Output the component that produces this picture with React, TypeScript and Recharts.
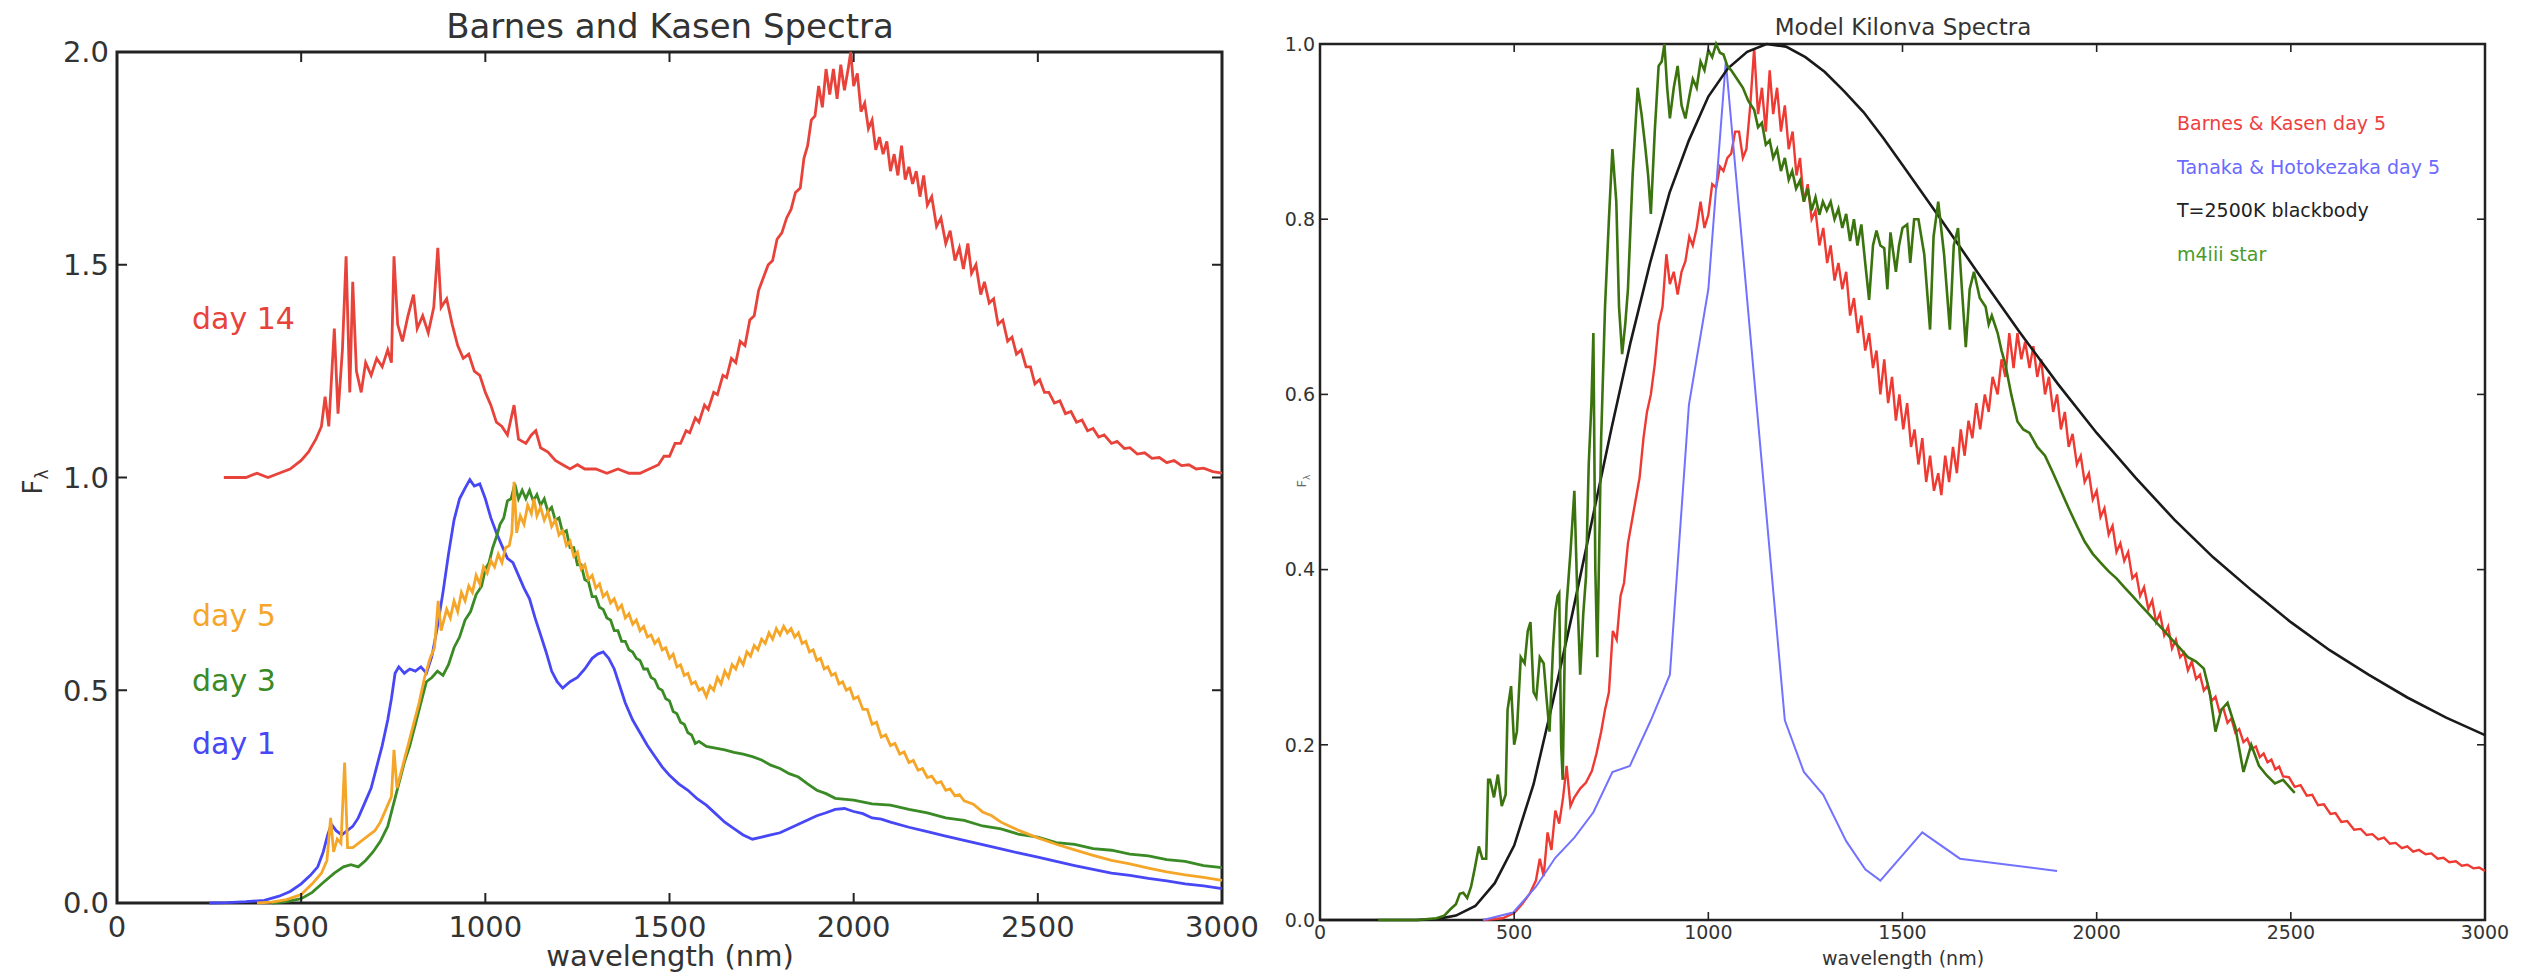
import React from 'react';
import { LineChart, Line, XAxis, YAxis, ReferenceArea } from 'recharts';

type Pt = [number, number];

// ---- left panel: Barnes & Kasen spectra (wavelength nm, F_lambda)
const bkDay14: Pt[] = [
  [290, 1.0], [320, 1.0], [350, 1.0], [380, 1.01], [410, 1.0], [440, 1.01], [470, 1.02], [500, 1.04], [520, 1.06], [540, 1.09],
  [555, 1.12], [565, 1.19], [575, 1.12], [590, 1.35], [600, 1.15], [612, 1.3], [622, 1.52], [632, 1.2], [640, 1.46], [650, 1.25],
  [663, 1.2], [675, 1.27], [690, 1.24], [705, 1.28], [720, 1.26], [735, 1.3], [745, 1.27], [752, 1.52], [762, 1.36], [775, 1.32],
  [790, 1.38], [805, 1.43], [815, 1.35], [830, 1.38], [845, 1.34], [860, 1.4], [871, 1.54], [880, 1.4], [895, 1.42], [910, 1.36],
  [925, 1.31], [940, 1.28], [955, 1.29], [970, 1.25], [985, 1.24], [1000, 1.2], [1015, 1.17], [1030, 1.13], [1045, 1.12], [1060, 1.1],
  [1078, 1.17], [1090, 1.09], [1110, 1.08], [1125, 1.1], [1137, 1.11], [1150, 1.07], [1170, 1.06], [1190, 1.04], [1210, 1.03], [1230, 1.02],
  [1250, 1.03], [1270, 1.02], [1300, 1.02], [1330, 1.01], [1360, 1.02], [1390, 1.01], [1420, 1.01], [1445, 1.02], [1470, 1.03], [1485, 1.05],
  [1500, 1.05], [1515, 1.08], [1530, 1.08], [1545, 1.11], [1555, 1.105], [1570, 1.14], [1580, 1.13], [1595, 1.17], [1605, 1.16], [1620, 1.2],
  [1630, 1.195], [1645, 1.24], [1655, 1.235], [1668, 1.28], [1680, 1.27], [1692, 1.32], [1705, 1.31], [1718, 1.37], [1730, 1.38], [1742, 1.44],
  [1755, 1.47], [1768, 1.5], [1780, 1.51], [1792, 1.56], [1805, 1.575], [1818, 1.61], [1830, 1.63], [1842, 1.67], [1855, 1.68], [1865, 1.75],
  [1875, 1.78], [1885, 1.84], [1895, 1.85], [1905, 1.92], [1915, 1.87], [1925, 1.96], [1935, 1.9], [1945, 1.96], [1955, 1.89], [1965, 1.97],
  [1975, 1.91], [1985, 1.96], [1992, 2.0], [2000, 1.92], [2010, 1.95], [2020, 1.86], [2030, 1.88], [2040, 1.82], [2050, 1.84], [2060, 1.77],
  [2070, 1.8], [2080, 1.76], [2090, 1.79], [2100, 1.72], [2110, 1.76], [2120, 1.71], [2130, 1.78], [2140, 1.7], [2150, 1.73], [2160, 1.69],
  [2170, 1.72], [2180, 1.66], [2190, 1.71], [2200, 1.64], [2212, 1.66], [2225, 1.59], [2237, 1.61], [2250, 1.55], [2262, 1.58], [2275, 1.51],
  [2287, 1.54], [2298, 1.49], [2310, 1.55], [2320, 1.48], [2332, 1.5], [2345, 1.43], [2355, 1.46], [2368, 1.41], [2380, 1.42], [2392, 1.36],
  [2405, 1.37], [2418, 1.32], [2430, 1.33], [2442, 1.29], [2455, 1.3], [2468, 1.26], [2480, 1.26], [2492, 1.22], [2505, 1.23], [2518, 1.2],
  [2530, 1.2], [2545, 1.175], [2560, 1.18], [2575, 1.15], [2590, 1.155], [2605, 1.13], [2620, 1.135], [2635, 1.11], [2650, 1.115], [2665, 1.095],
  [2680, 1.1], [2700, 1.08], [2715, 1.085], [2735, 1.068], [2750, 1.07], [2770, 1.055], [2790, 1.058], [2810, 1.045], [2830, 1.047], [2850, 1.035],
  [2870, 1.04], [2890, 1.028], [2910, 1.03], [2930, 1.02], [2950, 1.022], [2975, 1.014], [3000, 1.01],
];

const bkDay5: Pt[] = [
  [380, 0], [420, 0.002], [460, 0.008], [500, 0.02], [530, 0.045], [555, 0.07], [570, 0.1], [580, 0.2], [588, 0.12], [598, 0.15],
  [608, 0.14], [618, 0.33], [626, 0.13], [640, 0.13], [655, 0.14], [670, 0.15], [685, 0.16], [700, 0.17], [715, 0.19], [730, 0.22],
  [745, 0.25], [752, 0.36], [760, 0.27], [775, 0.32], [790, 0.37], [805, 0.42], [820, 0.47], [835, 0.53], [850, 0.575], [862, 0.6],
  [872, 0.71], [880, 0.64], [895, 0.69], [905, 0.67], [915, 0.71], [925, 0.685], [935, 0.73], [945, 0.71], [955, 0.745], [965, 0.73],
  [975, 0.77], [985, 0.75], [995, 0.79], [1005, 0.775], [1015, 0.805], [1025, 0.79], [1035, 0.82], [1045, 0.8], [1055, 0.835], [1065, 0.84],
  [1072, 0.87], [1078, 0.99], [1085, 0.87], [1095, 0.91], [1105, 0.89], [1115, 0.935], [1125, 0.915], [1132, 0.95], [1140, 0.91], [1150, 0.93],
  [1160, 0.9], [1170, 0.92], [1180, 0.885], [1190, 0.9], [1200, 0.865], [1210, 0.875], [1220, 0.84], [1230, 0.85], [1240, 0.815], [1250, 0.825],
  [1260, 0.785], [1270, 0.795], [1280, 0.76], [1290, 0.77], [1300, 0.74], [1310, 0.75], [1320, 0.72], [1330, 0.73], [1340, 0.705], [1350, 0.715],
  [1360, 0.69], [1370, 0.7], [1380, 0.67], [1390, 0.68], [1400, 0.655], [1410, 0.665], [1420, 0.64], [1430, 0.65], [1440, 0.625], [1450, 0.63],
  [1460, 0.61], [1470, 0.62], [1480, 0.595], [1490, 0.6], [1500, 0.575], [1510, 0.585], [1520, 0.555], [1530, 0.56], [1540, 0.535], [1550, 0.54],
  [1560, 0.515], [1570, 0.52], [1580, 0.5], [1590, 0.505], [1600, 0.485], [1610, 0.51], [1620, 0.5], [1630, 0.53], [1640, 0.515], [1650, 0.545],
  [1660, 0.53], [1670, 0.56], [1680, 0.55], [1690, 0.575], [1700, 0.56], [1710, 0.59], [1720, 0.58], [1730, 0.605], [1740, 0.595], [1750, 0.62],
  [1760, 0.61], [1770, 0.635], [1780, 0.62], [1790, 0.645], [1800, 0.63], [1810, 0.65], [1820, 0.635], [1830, 0.645], [1840, 0.625], [1850, 0.635],
  [1860, 0.61], [1870, 0.615], [1880, 0.59], [1890, 0.595], [1900, 0.57], [1910, 0.575], [1920, 0.55], [1930, 0.555], [1940, 0.535], [1950, 0.54],
  [1960, 0.515], [1970, 0.52], [1980, 0.5], [1990, 0.505], [2000, 0.48], [2012, 0.485], [2025, 0.455], [2037, 0.455], [2050, 0.42], [2062, 0.425],
  [2075, 0.39], [2087, 0.395], [2100, 0.37], [2112, 0.375], [2125, 0.35], [2137, 0.355], [2150, 0.33], [2162, 0.335], [2175, 0.312], [2187, 0.316],
  [2200, 0.295], [2212, 0.298], [2225, 0.282], [2237, 0.285], [2250, 0.265], [2262, 0.268], [2275, 0.252], [2287, 0.255], [2300, 0.24], [2325, 0.232],
  [2350, 0.214], [2375, 0.205], [2400, 0.19], [2425, 0.18], [2450, 0.17], [2500, 0.153], [2550, 0.138], [2600, 0.125], [2650, 0.112], [2700, 0.1],
  [2750, 0.092], [2800, 0.082], [2850, 0.073], [2900, 0.066], [2950, 0.06], [3000, 0.053],
];

const bkDay3: Pt[] = [
  [420, 0], [460, 0.003], [500, 0.01], [530, 0.025], [560, 0.048], [590, 0.07], [615, 0.085], [635, 0.09], [655, 0.085], [675, 0.1],
  [695, 0.12], [715, 0.145], [735, 0.18], [750, 0.23], [765, 0.28], [780, 0.33], [795, 0.37], [810, 0.42], [825, 0.47], [840, 0.52],
  [855, 0.53], [870, 0.545], [885, 0.535], [900, 0.56], [915, 0.6], [930, 0.625], [945, 0.665], [960, 0.685], [975, 0.725], [990, 0.745],
  [1000, 0.785], [1010, 0.8], [1020, 0.835], [1030, 0.86], [1040, 0.89], [1050, 0.905], [1060, 0.945], [1070, 0.95], [1080, 0.985], [1090, 0.95],
  [1100, 0.97], [1110, 0.95], [1120, 0.97], [1130, 0.945], [1140, 0.96], [1150, 0.935], [1160, 0.95], [1170, 0.92], [1180, 0.93], [1190, 0.9],
  [1200, 0.905], [1210, 0.87], [1220, 0.875], [1230, 0.835], [1240, 0.835], [1250, 0.795], [1260, 0.795], [1270, 0.76], [1280, 0.755], [1290, 0.72],
  [1300, 0.72], [1310, 0.695], [1320, 0.69], [1330, 0.67], [1340, 0.665], [1350, 0.64], [1360, 0.64], [1370, 0.615], [1380, 0.615], [1390, 0.595],
  [1400, 0.59], [1410, 0.575], [1420, 0.57], [1430, 0.55], [1440, 0.55], [1450, 0.53], [1460, 0.525], [1470, 0.505], [1480, 0.5], [1490, 0.48],
  [1500, 0.475], [1510, 0.45], [1520, 0.445], [1530, 0.425], [1540, 0.42], [1550, 0.4], [1560, 0.395], [1570, 0.375], [1580, 0.38], [1600, 0.368],
  [1625, 0.364], [1650, 0.36], [1675, 0.354], [1700, 0.35], [1725, 0.344], [1750, 0.336], [1775, 0.324], [1800, 0.316], [1825, 0.304], [1850, 0.296],
  [1875, 0.28], [1900, 0.265], [1925, 0.257], [1950, 0.246], [2000, 0.242], [2050, 0.233], [2100, 0.23], [2150, 0.22], [2200, 0.212], [2250, 0.2],
  [2300, 0.194], [2350, 0.181], [2400, 0.174], [2450, 0.161], [2500, 0.155], [2550, 0.142], [2600, 0.138], [2650, 0.128], [2700, 0.124], [2750, 0.115],
  [2800, 0.111], [2850, 0.102], [2900, 0.098], [2950, 0.088], [3000, 0.083],
];

const bkDay1: Pt[] = [
  [250, 0], [300, 0.001], [350, 0.003], [400, 0.006], [440, 0.016], [470, 0.027], [500, 0.045], [525, 0.065], [545, 0.085], [560, 0.12],
  [572, 0.16], [582, 0.185], [595, 0.17], [610, 0.16], [625, 0.17], [640, 0.18], [655, 0.2], [670, 0.23], [690, 0.27], [705, 0.32],
  [720, 0.37], [735, 0.43], [745, 0.48], [755, 0.54], [765, 0.555], [780, 0.54], [795, 0.55], [810, 0.545], [825, 0.555], [840, 0.54],
  [855, 0.58], [870, 0.65], [885, 0.73], [900, 0.82], [915, 0.9], [930, 0.95], [945, 0.975], [958, 0.995], [970, 0.98], [985, 0.985],
  [1000, 0.95], [1015, 0.905], [1030, 0.87], [1045, 0.84], [1060, 0.81], [1075, 0.8], [1090, 0.77], [1105, 0.74], [1120, 0.715], [1135, 0.67],
  [1150, 0.63], [1165, 0.59], [1180, 0.545], [1195, 0.52], [1210, 0.505], [1230, 0.52], [1250, 0.53], [1270, 0.55], [1290, 0.575], [1305, 0.585],
  [1320, 0.59], [1335, 0.575], [1350, 0.55], [1365, 0.51], [1380, 0.47], [1400, 0.43], [1420, 0.4], [1440, 0.37], [1460, 0.345], [1480, 0.32],
  [1500, 0.3], [1525, 0.28], [1550, 0.265], [1575, 0.245], [1600, 0.23], [1625, 0.21], [1650, 0.19], [1675, 0.175], [1700, 0.16], [1725, 0.15],
  [1750, 0.155], [1775, 0.16], [1800, 0.165], [1825, 0.175], [1850, 0.185], [1875, 0.195], [1900, 0.205], [1925, 0.212], [1950, 0.22], [1975, 0.222],
  [2000, 0.215], [2025, 0.21], [2050, 0.2], [2075, 0.197], [2100, 0.19], [2150, 0.178], [2200, 0.168], [2250, 0.157], [2300, 0.147], [2350, 0.137],
  [2400, 0.127], [2450, 0.117], [2500, 0.108], [2550, 0.098], [2600, 0.088], [2650, 0.079], [2700, 0.07], [2750, 0.065], [2800, 0.058], [2850, 0.052],
  [2900, 0.045], [2950, 0.04], [3000, 0.034],
];

// ---- right panel: model kilonova spectra
const bkModelDay5: Pt[] = [
  [420, 0], [470, 0.002], [500, 0.008], [520, 0.018], [540, 0.03], [556, 0.045], [566, 0.07], [576, 0.05], [586, 0.1], [596, 0.08],
  [606, 0.125], [616, 0.11], [626, 0.14], [635, 0.176], [645, 0.13], [655, 0.14], [670, 0.15], [685, 0.157], [700, 0.17], [712, 0.19],
  [724, 0.215], [734, 0.24], [744, 0.26], [754, 0.33], [764, 0.32], [774, 0.37], [783, 0.385], [793, 0.43], [803, 0.455], [813, 0.48],
  [823, 0.505], [833, 0.55], [842, 0.58], [852, 0.6], [862, 0.634], [872, 0.68], [882, 0.7], [892, 0.76], [901, 0.726], [911, 0.74],
  [921, 0.714], [931, 0.74], [941, 0.752], [951, 0.78], [960, 0.77], [970, 0.79], [980, 0.82], [990, 0.79], [1000, 0.805], [1010, 0.84],
  [1020, 0.836], [1030, 0.86], [1039, 0.855], [1049, 0.87], [1059, 0.875], [1069, 0.9], [1079, 0.9], [1089, 0.87], [1098, 0.88], [1108, 0.93],
  [1118, 0.995], [1128, 0.92], [1138, 0.95], [1148, 0.9], [1158, 0.97], [1167, 0.92], [1177, 0.95], [1187, 0.9], [1197, 0.93], [1207, 0.88],
  [1217, 0.9], [1227, 0.85], [1236, 0.87], [1246, 0.82], [1256, 0.84], [1266, 0.8], [1276, 0.81], [1286, 0.77], [1296, 0.79], [1306, 0.75],
  [1315, 0.77], [1325, 0.73], [1335, 0.75], [1345, 0.72], [1355, 0.74], [1365, 0.69], [1375, 0.71], [1385, 0.67], [1394, 0.69], [1404, 0.65],
  [1414, 0.67], [1424, 0.63], [1433, 0.65], [1443, 0.6], [1453, 0.64], [1463, 0.59], [1473, 0.62], [1483, 0.57], [1492, 0.6], [1502, 0.56],
  [1512, 0.59], [1522, 0.54], [1531, 0.56], [1541, 0.52], [1551, 0.55], [1561, 0.5], [1571, 0.53], [1581, 0.49], [1592, 0.51], [1600, 0.485],
  [1610, 0.53], [1620, 0.5], [1630, 0.54], [1640, 0.51], [1650, 0.56], [1660, 0.53], [1670, 0.57], [1680, 0.55], [1690, 0.59], [1700, 0.56],
  [1712, 0.6], [1722, 0.58], [1732, 0.62], [1745, 0.6], [1755, 0.64], [1765, 0.62], [1775, 0.67], [1786, 0.63], [1796, 0.67], [1806, 0.64],
  [1816, 0.66], [1827, 0.63], [1837, 0.655], [1847, 0.62], [1857, 0.64], [1867, 0.6], [1877, 0.62], [1888, 0.58], [1898, 0.6], [1908, 0.56],
  [1918, 0.58], [1928, 0.54], [1938, 0.555], [1949, 0.52], [1959, 0.53], [1969, 0.5], [1980, 0.51], [1990, 0.48], [2000, 0.49], [2010, 0.46],
  [2020, 0.47], [2031, 0.44], [2041, 0.45], [2051, 0.42], [2061, 0.43], [2071, 0.41], [2081, 0.42], [2092, 0.39], [2102, 0.395], [2112, 0.37],
  [2122, 0.38], [2133, 0.355], [2143, 0.365], [2153, 0.34], [2163, 0.35], [2174, 0.325], [2184, 0.335], [2194, 0.31], [2204, 0.32], [2215, 0.3],
  [2225, 0.305], [2235, 0.285], [2245, 0.295], [2256, 0.275], [2266, 0.28], [2276, 0.262], [2286, 0.268], [2296, 0.25], [2306, 0.255], [2316, 0.238],
  [2326, 0.242], [2337, 0.225], [2347, 0.23], [2357, 0.214], [2367, 0.218], [2378, 0.203], [2388, 0.207], [2398, 0.195], [2410, 0.198], [2420, 0.186],
  [2430, 0.19], [2440, 0.18], [2450, 0.183], [2460, 0.172], [2470, 0.175], [2480, 0.164], [2495, 0.163], [2510, 0.152], [2525, 0.154], [2541, 0.142],
  [2555, 0.143], [2570, 0.131], [2585, 0.132], [2602, 0.121], [2615, 0.122], [2630, 0.112], [2645, 0.113], [2663, 0.103], [2680, 0.104], [2695, 0.097],
  [2710, 0.098], [2725, 0.092], [2740, 0.094], [2755, 0.087], [2770, 0.088], [2786, 0.082], [2800, 0.084], [2815, 0.078], [2830, 0.08], [2847, 0.075],
  [2862, 0.076], [2878, 0.07], [2893, 0.071], [2908, 0.066], [2925, 0.067], [2940, 0.062], [2955, 0.063], [2970, 0.059], [2985, 0.06], [3000, 0.056],
];

const tanakaDay5: Pt[] = [
  [420, 0], [497, 0.0085], [556, 0.038], [606, 0.071], [655, 0.094], [704, 0.123], [753, 0.169], [798, 0.176], [852, 0.228], [901, 0.28],
  [950, 0.588], [1000, 0.72], [1045, 0.98], [1197, 0.228], [1246, 0.169], [1296, 0.143], [1355, 0.09], [1404, 0.058], [1443, 0.045], [1551, 0.1],
  [1648, 0.07], [1898, 0.056],
];

const blackbody2500: Pt[] = [
  [0, 0], [250, 0], [300, 0.001], [350, 0.005], [400, 0.016], [450, 0.042], [500, 0.085], [550, 0.155], [600, 0.25], [650, 0.35],
  [700, 0.455], [750, 0.56], [800, 0.66], [850, 0.75], [900, 0.83], [950, 0.89], [1000, 0.94], [1050, 0.972], [1100, 0.991], [1150, 1.0],
  [1200, 0.997], [1250, 0.985], [1300, 0.968], [1350, 0.946], [1400, 0.922], [1450, 0.893], [1500, 0.862], [1600, 0.799], [1700, 0.735], [1800, 0.672],
  [1900, 0.612], [2000, 0.556], [2100, 0.505], [2200, 0.457], [2300, 0.414], [2400, 0.376], [2500, 0.34], [2600, 0.308], [2700, 0.28], [2800, 0.254],
  [2900, 0.231], [3000, 0.211],
];

const m4iiiStar: Pt[] = [
  [150, 0], [250, 0], [300, 0.002], [320, 0.005], [335, 0.012], [350, 0.018], [360, 0.03], [369, 0.031], [379, 0.025], [389, 0.038],
  [399, 0.06], [409, 0.084], [418, 0.07], [428, 0.07], [433, 0.16], [438, 0.16], [448, 0.14], [458, 0.166], [468, 0.13], [478, 0.143],
  [483, 0.24], [492, 0.267], [500, 0.2], [507, 0.215], [517, 0.3], [527, 0.293], [535, 0.33], [542, 0.34], [550, 0.26], [557, 0.254],
  [566, 0.3], [576, 0.293], [584, 0.25], [591, 0.215], [600, 0.31], [606, 0.353], [612, 0.37], [616, 0.373], [621, 0.2], [625, 0.16],
  [630, 0.3], [635, 0.36], [645, 0.42], [655, 0.49], [662, 0.38], [670, 0.28], [678, 0.35], [685, 0.392], [692, 0.52], [699, 0.59],
  [704, 0.67], [709, 0.4], [714, 0.3], [724, 0.55], [734, 0.7], [744, 0.8], [753, 0.88], [763, 0.82], [770, 0.7], [778, 0.646],
  [786, 0.68], [793, 0.72], [805, 0.85], [818, 0.95], [828, 0.92], [837, 0.885], [845, 0.85], [852, 0.806], [862, 0.9], [872, 0.975],
  [880, 0.98], [887, 1.0], [894, 0.95], [901, 0.915], [911, 0.95], [921, 0.975], [931, 0.93], [941, 0.915], [951, 0.94], [960, 0.96],
  [970, 0.95], [980, 0.98], [990, 0.97], [1000, 0.993], [1010, 0.985], [1020, 1.0], [1030, 0.99], [1039, 0.988], [1049, 0.975], [1059, 0.97],
  [1074, 0.96], [1089, 0.95], [1103, 0.935], [1118, 0.925], [1128, 0.905], [1138, 0.91], [1148, 0.885], [1158, 0.89], [1167, 0.87], [1177, 0.88],
  [1187, 0.855], [1197, 0.87], [1207, 0.845], [1216, 0.855], [1226, 0.835], [1236, 0.844], [1246, 0.82], [1256, 0.835], [1266, 0.81], [1276, 0.825],
  [1286, 0.805], [1295, 0.82], [1305, 0.81], [1315, 0.82], [1325, 0.8], [1335, 0.812], [1345, 0.79], [1355, 0.806], [1365, 0.775], [1375, 0.8],
  [1384, 0.77], [1394, 0.794], [1404, 0.75], [1414, 0.708], [1424, 0.77], [1433, 0.787], [1443, 0.77], [1453, 0.767], [1461, 0.72], [1469, 0.785],
  [1483, 0.74], [1491, 0.77], [1500, 0.79], [1512, 0.794], [1520, 0.75], [1530, 0.8], [1541, 0.8], [1556, 0.76], [1571, 0.674], [1580, 0.78],
  [1592, 0.82], [1607, 0.76], [1622, 0.674], [1632, 0.77], [1643, 0.79], [1653, 0.72], [1663, 0.654], [1673, 0.72], [1684, 0.74], [1699, 0.71],
  [1714, 0.7], [1722, 0.68], [1730, 0.69], [1745, 0.67], [1755, 0.65], [1765, 0.634], [1780, 0.6], [1796, 0.569], [1811, 0.56], [1827, 0.556],
  [1847, 0.54], [1867, 0.53], [1888, 0.51], [1908, 0.49], [1928, 0.47], [1949, 0.45], [1969, 0.432], [1990, 0.418], [2010, 0.408], [2031, 0.398],
  [2051, 0.39], [2071, 0.38], [2092, 0.37], [2112, 0.36], [2133, 0.35], [2153, 0.34], [2174, 0.33], [2194, 0.32], [2215, 0.31], [2235, 0.3],
  [2256, 0.295], [2276, 0.287], [2291, 0.26], [2306, 0.215], [2321, 0.24], [2337, 0.248], [2357, 0.22], [2378, 0.169], [2398, 0.2], [2418, 0.176],
  [2438, 0.165], [2459, 0.156], [2480, 0.16], [2500, 0.15], [2510, 0.145],
];

const xTicks = [0, 500, 1000, 1500, 2000, 2500, 3000];
const leftYTicks = [0, 0.5, 1.0, 1.5, 2.0];
const rightYTicks = [0, 0.2, 0.4, 0.6, 0.8, 1.0];

const FONT = '"DejaVu Sans", sans-serif';
const rows = (pts: Pt[]) => pts.map(([x, y]) => ({ x, y }));

// tick renderers that draw inward ticks on both sides of the frame
const xTick = (top: number, len: number, size: number, dy: number, w: number) => (p: any) => (
  <g>
    <line x1={p.x} y1={p.y} x2={p.x} y2={p.y - len} stroke="#222" strokeWidth={w} />
    <line x1={p.x} y1={top} x2={p.x} y2={top + len} stroke="#222" strokeWidth={w} />
    <text x={p.x} y={p.y + dy} textAnchor="middle" fontSize={size} fill="#333" fontFamily={FONT}>
      {p.payload.value}
    </text>
  </g>
);

const yTick = (right: number, len: number, size: number, gap: number, w: number) => (p: any) => (
  <g>
    <line x1={p.x} y1={p.y} x2={p.x + len} y2={p.y} stroke="#222" strokeWidth={w} />
    <line x1={right} y1={p.y} x2={right - len} y2={p.y} stroke="#222" strokeWidth={w} />
    <text x={p.x - gap} y={p.y + size * 0.36} textAnchor="end" fontSize={size} fill="#333" fontFamily={FONT}>
      {Number(p.payload.value).toFixed(1)}
    </text>
  </g>
);

const App: React.FC = () => {
  return (
    <div style={{ position: 'absolute', left: 0, top: 0, width: 2539, height: 978, background: '#fff' }}>
      <style>{`body{margin:0}`}</style>

      <div style={{ position: 'absolute', left: 0, top: 0 }}>
        <LineChart width={1270} height={978} margin={{ top: 52, right: 48, bottom: 0, left: 0 }}>
          <XAxis dataKey="x" type="number" domain={[0, 3000]} ticks={xTicks} interval={0} height={75}
            axisLine={false} tickLine={false} tickSize={0} tickMargin={0} tick={xTick(52, 10, 29, 34, 2)} />
          <YAxis type="number" domain={[0, 2]} ticks={leftYTicks} interval={0} width={117}
            axisLine={false} tickLine={false} tickSize={0} tickMargin={0} tick={yTick(1222, 10, 29, 8, 2)} />
          <ReferenceArea x1={0} x2={3000} y1={0} y2={2} fill="none" stroke="#222" strokeWidth={3} ifOverflow="visible" />
          <Line data={rows(bkDay1)} dataKey="y" stroke="#4747f5" strokeWidth={2.8} dot={false} isAnimationActive={false} />
          <Line data={rows(bkDay3)} dataKey="y" stroke="#3a8a26" strokeWidth={2.8} dot={false} isAnimationActive={false} />
          <Line data={rows(bkDay5)} dataKey="y" stroke="#f5a628" strokeWidth={2.8} dot={false} isAnimationActive={false} />
          <Line data={rows(bkDay14)} dataKey="y" stroke="#e8433a" strokeWidth={2.8} dot={false} isAnimationActive={false} />
        </LineChart>
      </div>

      <div style={{ position: 'absolute', left: 1270, top: 0 }}>
        <LineChart width={1269} height={978} margin={{ top: 44, right: 54, bottom: 0, left: 0 }}>
          <XAxis dataKey="x" type="number" domain={[0, 3000]} ticks={xTicks} interval={0} height={58}
            axisLine={false} tickLine={false} tickSize={0} tickMargin={0} tick={xTick(44, 8, 19, 19, 1.6)} />
          <YAxis type="number" domain={[0, 1]} ticks={rightYTicks} interval={0} width={50}
            axisLine={false} tickLine={false} tickSize={0} tickMargin={0} tick={yTick(1215, 8, 19, 5, 1.6)} />
          <ReferenceArea x1={0} x2={3000} y1={0} y2={1} fill="none" stroke="#222" strokeWidth={2.5} ifOverflow="visible" />
          <Line data={rows(bkModelDay5)} dataKey="y" stroke="#ee3a32" strokeWidth={2.4} dot={false} isAnimationActive={false} />
          <Line data={rows(tanakaDay5)} dataKey="y" stroke="#7272ff" strokeWidth={2} dot={false} isAnimationActive={false} />
          <Line data={rows(blackbody2500)} dataKey="y" stroke="#1a1a1a" strokeWidth={2.6} dot={false} isAnimationActive={false} />
          <Line data={rows(m4iiiStar)} dataKey="y" stroke="#3b740f" strokeWidth={2.6} dot={false} isAnimationActive={false} />
        </LineChart>
      </div>

      <svg width={2539} height={978} style={{ position: 'absolute', left: 0, top: 0, pointerEvents: 'none' }} fontFamily={FONT}>
        <text x={670} y={38} textAnchor="middle" fontSize={34} fill="#333">Barnes and Kasen Spectra</text>
        <text x={670} y={966} textAnchor="middle" fontSize={29} fill="#333">wavelength (nm)</text>
        <text transform="translate(42,482) rotate(-90)" textAnchor="middle" fontSize={26} fill="#333">
          F<tspan fontSize={17} dy={6}>λ</tspan>
        </text>
        <text x={192} y={329} fontSize={30} fill="#e8433a">day 14</text>
        <text x={192} y={626} fontSize={30} fill="#f5a628">day 5</text>
        <text x={192} y={691} fontSize={30} fill="#3a8a26">day 3</text>
        <text x={192} y={754} fontSize={30} fill="#4747f5">day 1</text>

        <text x={1903} y={35} textAnchor="middle" fontSize={23} fill="#333">Model Kilonva Spectra</text>
        <text x={1903} y={965} textAnchor="middle" fontSize={19} fill="#333">wavelength (nm)</text>
        <text transform="translate(1306,481) rotate(-90)" textAnchor="middle" fontSize={13} fill="#666">
          F<tspan fontSize={9} dy={4}>λ</tspan>
        </text>
        <text x={2177} y={130} fontSize={19} fill="#ee4040">Barnes &amp; Kasen day 5</text>
        <text x={2177} y={174} fontSize={19} fill="#6a6aff">Tanaka &amp; Hotokezaka day 5</text>
        <text x={2177} y={217} fontSize={19} fill="#222">T=2500K blackbody</text>
        <text x={2177} y={261} fontSize={19} fill="#4a9a2a">m4iii star</text>
      </svg>
    </div>
  );
};

export default App;
